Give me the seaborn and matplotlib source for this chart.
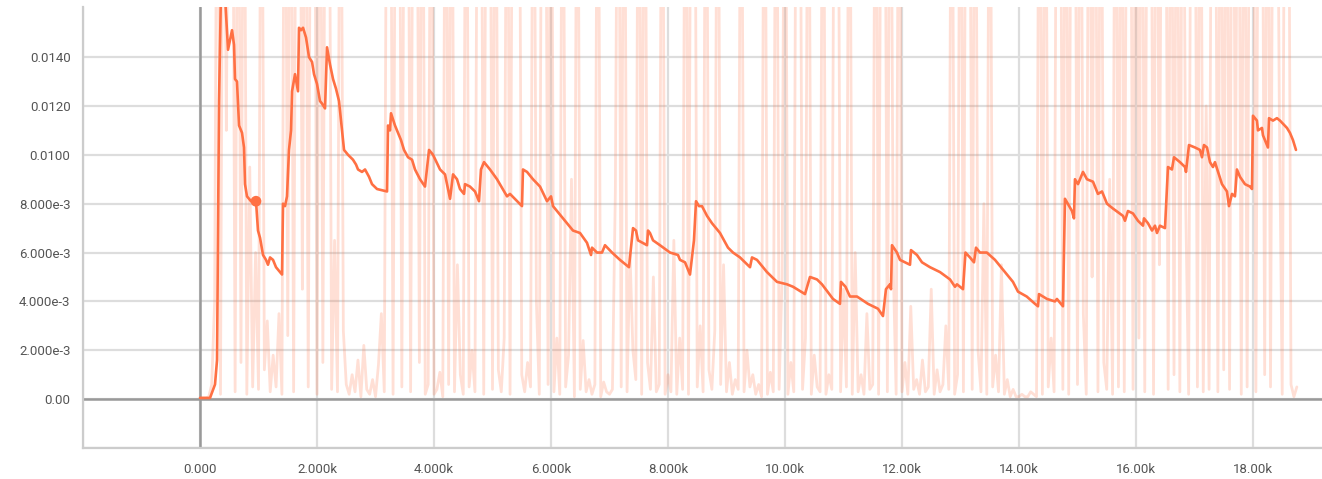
import matplotlib
matplotlib.use("Agg")
import matplotlib.pyplot as plt
import numpy as np
import pandas as pd
import seaborn as sns

# smoothed series (step, value)
smooth_steps = [
    0, 171, 256, 291, 325, 359, 427, 479, 547, 581, 598, 632, 667, 718, 752, 769, 803, 872, 957,
    991, 1026, 1077, 1128, 1162, 1197, 1248, 1299, 1402, 1419, 1453, 1487, 1521, 1556, 1573, 1624,
    1675, 1692, 1726, 1761, 1812, 1863, 1915, 1949, 2000, 2051, 2085, 2137, 2171, 2222, 2274, 2325,
    2376, 2410, 2462, 2530, 2615, 2667, 2701, 2769, 2821, 2889, 2940, 3026, 3197, 3214, 3248, 3265,
    3333, 3436, 3487, 3556, 3624, 3675, 3761, 3846, 3915, 3983, 4103, 4188, 4274, 4325, 4393, 4444,
    4513, 4530, 4615, 4701, 4769, 4803, 4855, 4957, 5077, 5248, 5299, 5504, 5521, 5590, 5692, 5812,
    5932, 6000, 6034, 6205, 6376, 6496, 6615, 6684, 6701, 6786, 6872, 6923, 7043, 7179, 7333, 7402,
    7453, 7487, 7641, 7658, 7692, 7744, 7863, 8034, 8171, 8205, 8291, 8376, 8444, 8479, 8530, 8581,
    8667, 8752, 8889, 9026, 9111, 9231, 9402, 9436, 9521, 9692, 9863, 10034, 10137, 10342, 10427,
    10547, 10632, 10821, 10940, 10957, 11034, 11111, 11231, 11419, 11590, 11675, 11726, 11795,
    11812, 11829, 11914, 11966, 12137, 12154, 12256, 12342, 12479, 12650, 12821, 12906, 12940,
    13043, 13085, 13162, 13231, 13265, 13333, 13450, 13590, 13727, 13897, 13983, 14132, 14274,
    14325, 14342, 14479, 14615, 14649, 14752, 14786, 14906, 14940, 14957, 15009, 15094, 15162,
    15265, 15350, 15419, 15504, 15607, 15778, 15812, 15863, 15949, 16034, 16120, 16137, 16205,
    16274, 16325, 16359, 16410, 16496, 16547, 16615, 16650, 16752, 16838, 16855, 16906, 17009,
    17094, 17128, 17162, 17214, 17265, 17316, 17350, 17470, 17555, 17590, 17641, 17692, 17726,
    17778, 17863, 17949, 17983, 18000, 18068, 18085, 18154, 18171, 18256, 18274, 18342, 18410,
    18462, 18581, 18632, 18684, 18735,
]
smooth_values = [
    0.00005, 0.00005, 0.0006, 0.0016, 0.0122, 0.0168, 0.0165, 0.0143, 0.0151, 0.0145, 0.0131,
    0.0130, 0.0112, 0.0109, 0.0103, 0.0088, 0.0083, 0.0081, 0.0081, 0.0069, 0.0066, 0.0059, 0.0057,
    0.0055, 0.0058, 0.0057, 0.0054, 0.0051, 0.0080, 0.0079, 0.0083, 0.0102, 0.0110, 0.0126, 0.0133,
    0.0126, 0.0152, 0.0151, 0.0152, 0.0148, 0.0140, 0.0138, 0.0133, 0.0129, 0.0122, 0.0121, 0.0119,
    0.0144, 0.0137, 0.0131, 0.0127, 0.0122, 0.0114, 0.0102, 0.0100, 0.0098, 0.0096, 0.0094, 0.0093,
    0.0094, 0.0091, 0.0088, 0.0086, 0.0085, 0.0112, 0.0110, 0.0117, 0.0112, 0.0106, 0.0102, 0.0099,
    0.0098, 0.0094, 0.0090, 0.0087, 0.0102, 0.0100, 0.0094, 0.0092, 0.0082, 0.0092, 0.0090, 0.0086,
    0.0084, 0.0088, 0.0087, 0.0085, 0.0081, 0.0094, 0.0097, 0.0094, 0.0090, 0.0083, 0.0084, 0.0079,
    0.0094, 0.0093, 0.0090, 0.0087, 0.0081, 0.0083, 0.0079, 0.0074, 0.0069, 0.0068, 0.0064, 0.0059,
    0.0062, 0.0060, 0.0060, 0.0063, 0.0060, 0.0057, 0.0054, 0.0070, 0.0069, 0.0065, 0.0063, 0.0069,
    0.0068, 0.0065, 0.0063, 0.0060, 0.0059, 0.0057, 0.0056, 0.0051, 0.0065, 0.0081, 0.0079, 0.0079,
    0.0075, 0.0072, 0.0068, 0.0062, 0.0060, 0.0058, 0.0054, 0.0058, 0.0057, 0.0052, 0.0048, 0.0047,
    0.0046, 0.0043, 0.0050, 0.0049, 0.0047, 0.0041, 0.0039, 0.0048, 0.0046, 0.0042, 0.0042, 0.0039,
    0.0037, 0.0034, 0.0045, 0.0047, 0.0045, 0.0063, 0.0060, 0.0057, 0.0055, 0.0061, 0.0059, 0.0056,
    0.0054, 0.0052, 0.0049, 0.0046, 0.0047, 0.0045, 0.0060, 0.0058, 0.0056, 0.0062, 0.0060, 0.0060,
    0.0057, 0.0053, 0.0048, 0.0044, 0.0042, 0.0039, 0.0038, 0.0043, 0.0041, 0.0040, 0.0041, 0.0038,
    0.0082, 0.0077, 0.0074, 0.0090, 0.0088, 0.0093, 0.0090, 0.0089, 0.0084, 0.0085, 0.0080, 0.0078,
    0.0075, 0.0073, 0.0077, 0.0076, 0.0073, 0.0071, 0.0074, 0.0072, 0.0069, 0.0071, 0.0068, 0.0071,
    0.0070, 0.0095, 0.0094, 0.0099, 0.0097, 0.0095, 0.0093, 0.0104, 0.0103, 0.0102, 0.0099, 0.0104,
    0.0103, 0.0097, 0.0095, 0.0097, 0.0088, 0.0085, 0.0079, 0.0084, 0.0083, 0.0094, 0.0091, 0.0088,
    0.0087, 0.0086, 0.0116, 0.0114, 0.0110, 0.0111, 0.0108, 0.0103, 0.0115, 0.0114, 0.0115, 0.0114,
    0.0111, 0.0109, 0.0106, 0.0102,
]

# raw series, one value every 50 steps, in units of 1e-3 (30 = clipped above the chart)
raw_step_size = 50
raw_values_e3 = [
    0.05, 0.05, 0.05, 0.1, 0.6, 4.0, 30, 0.2, 30, 11, 30, 30, 0.3, 30, 1.5, 30, 0.2, 9.5, 0.5, 6.0,
    0.4, 30, 1.2, 3.2, 0.3, 1.8, 0.5, 3.5, 0.2, 30, 2.6, 30, 0.3, 30, 30, 4.5, 30, 0.5, 30, 30,
    0.2, 30, 1.5, 30, 30, 0.4, 6.5, 0.3, 30, 2.8, 0.6, 0.2, 1.0, 0.3, 1.6, 0.1, 2.2, 0.4, 0.2, 0.8,
    0.1, 1.4, 3.5, 0.3, 30, 30, 0.2, 30, 30, 0.5, 30, 30, 0.3, 30, 30, 1.5, 30, 0.2, 0.6, 30,
    0.2, 0.4, 1.1, 0.1, 30, 0.6, 30, 0.3, 5.5, 1.0, 0.2, 30, 0.5, 2.0, 0.3, 30, 30, 0.2, 30, 30,
    0.4, 30, 1.2, 0.3, 2.5, 30, 0.2, 30, 30, 30, 1.0, 0.3, 1.5, 0.5, 30, 4.0, 0.2, 30, 30, 0.6,
    30, 0.3, 2.5, 0.2, 30, 0.5, 1.8, 9.0, 0.1, 30, 0.4, 2.4, 0.3, 0.8, 0.2, 0.6, 30, 0.1, 0.7, 0.3,
    0.2, 0.4, 8.5, 30, 0.5, 30, 0.3, 6.0, 2.0, 0.8, 30, 0.2, 30, 1.5, 0.4, 5.0, 0.3, 0.6, 30, 0.2,
    1.0, 0.3, 6.5, 0.2, 2.5, 0.4, 30, 0.2, 30, 30, 0.5, 3.0, 0.3, 30, 1.2, 0.4, 2.8, 30, 0.6, 5.5,
    0.3, 1.5, 0.2, 0.8, 0.4, 30, 0.3, 2.0, 0.5, 1.0, 0.2, 0.6, 0.1, 30, 0.2, 1.1, 0.3, 30, 0.4, 5.0,
    30, 0.2, 1.5, 0.3, 30, 30, 0.4, 2.5, 30, 0.2, 1.8, 0.5, 0.3, 30, 0.2, 1.0, 0.4, 30, 30, 0.3,
    4.5, 0.5, 30, 0.2, 6.0, 0.3, 1.0, 0.2, 3.5, 0.4, 0.6, 30, 0.2, 30, 30, 0.3, 30, 5.5, 0.2, 30,
    0.3, 1.5, 0.2, 3.8, 0.4, 0.8, 0.2, 1.6, 0.3, 0.5, 4.5, 0.2, 1.2, 0.3, 0.6, 3.0, 0.4, 30, 0.2, 1.0,
    30, 0.3, 30, 30, 0.4, 30, 2.0, 0.3, 8.0, 0.2, 30, 0.5, 1.8, 0.3, 5.5, 0.2, 0.8, 0.1, 0.4, 0.1,
    0.1, 0.2, 0.1, 0.1, 0.3, 0.2, 0.1, 30, 0.2, 30, 0.5, 2.5, 0.3, 30, 30, 0.4, 30, 0.2, 30, 30,
    0.6, 30, 3.5, 0.2, 30, 5.0, 30, 0.3, 30, 1.5, 0.4, 9.0, 0.2, 30, 0.5, 30, 0.3, 30, 30, 0.4,
    30, 2.5, 30, 0.3, 30, 30, 0.2, 30, 5.5, 30, 30, 0.4, 30, 1.0, 30, 0.3, 30, 8.0, 0.2, 30,
    30, 0.5, 30, 0.3, 12, 0.4, 30, 30, 0.3, 30, 1.2, 30, 0.4, 30, 8.5, 30, 0.2, 30, 0.5, 30,
    30, 0.3, 30, 30, 1.0, 30, 0.5, 30, 30, 12, 0.2, 30, 30, 0.6, 0.1, 0.5,
]

# hovered point on the smoothed line
hover_index = 18

x_ticks = [-2000, 0, 2000, 4000, 6000, 8000, 10000, 12000, 14000, 16000, 18000]
x_labels = ["", "0.000", "2.000k", "4.000k", "6.000k", "8.000k",
            "10.00k", "12.00k", "14.00k", "16.00k", "18.00k"]
y_ticks = [-0.002, 0.0, 0.002, 0.004, 0.006, 0.008, 0.010, 0.012, 0.014]
y_labels = ["", "0.00", "2.000e-3", "4.000e-3", "6.000e-3", "8.000e-3",
            "0.0100", "0.0120", "0.0140"]

line_color = "#ff7043"

raw = pd.DataFrame({
    "step": np.arange(len(raw_values_e3)) * raw_step_size,
    "value": np.array(raw_values_e3) * 1e-3,
})
smooth = pd.DataFrame({"step": smooth_steps, "value": smooth_values})

sns.set_style("white")
plt.rcParams["font.family"] = ["Roboto", "DejaVu Sans"]

fig = plt.figure(figsize=(13.22, 4.79), dpi=100)
ax = fig.add_axes([0.0628, 0.0647, 0.9372, 0.9207])

ax.set_xlim(-2000, 19180)
ax.set_ylim(-0.002, 0.01605)

ax.set_xticks(x_ticks)
ax.set_xticklabels(x_labels)
ax.set_yticks(y_ticks)
ax.set_yticklabels(y_labels)
ax.grid(True, color="#dddddd", linewidth=1.6)
ax.set_axisbelow(True)

ax.axhline(0, color="#999999", linewidth=1.8, zorder=1)
ax.axvline(0, color="#999999", linewidth=1.8, zorder=1)

sns.lineplot(data=raw, x="step", y="value", ax=ax, color=line_color,
             alpha=0.22, linewidth=2.0, estimator=None, sort=False, zorder=2)
sns.lineplot(data=smooth, x="step", y="value", ax=ax, color=line_color,
             linewidth=1.9, estimator=None, sort=False, zorder=3)
sns.scatterplot(x=[smooth_steps[hover_index]], y=[smooth_values[hover_index]], ax=ax,
                color=line_color, s=60, edgecolor="none", zorder=4)

for side in ["top", "right"]:
    ax.spines[side].set_visible(False)
for side in ["left", "bottom"]:
    ax.spines[side].set_color("#cccccc")
    ax.spines[side].set_linewidth(1.6)

ax.tick_params(axis="both", which="both", length=5, width=1.6, color="#cccccc",
               labelcolor="#555555", labelsize=9.5)
ax.tick_params(axis="y", pad=4)
ax.tick_params(axis="x", pad=6)
ax.set_xlabel("")
ax.set_ylabel("")

fig.savefig("out.png", dpi=100)
